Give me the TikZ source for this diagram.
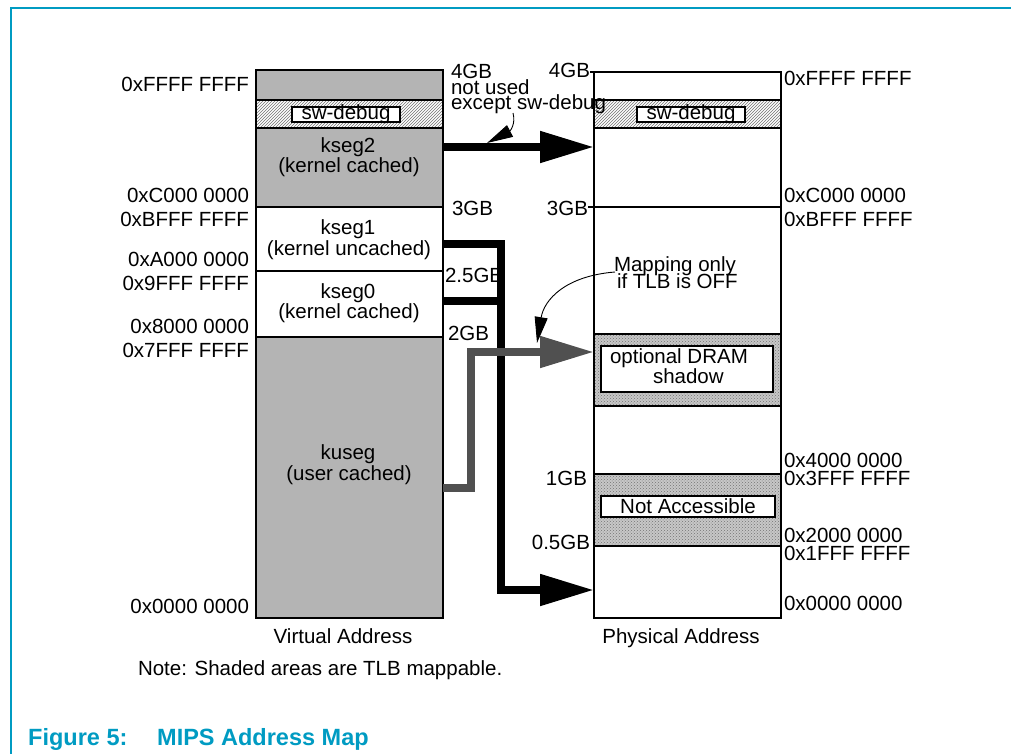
\documentclass[tikz,border=0pt]{standalone}
\usepackage{fontspec}
\setmainfont{Liberation Sans}
\usetikzlibrary{arrows.meta,patterns}
\definecolor{figcyan}{RGB}{0,155,194}
\definecolor{segray}{RGB}{180,180,180}
\definecolor{arrgray}{RGB}{80,80,80}
\begin{document}
\begin{tikzpicture}[x=1pt,y=-1pt,
  lbl/.style={font=\fontsize{20.5}{15}\selectfont, inner sep=0pt, outer sep=0pt},
  figcap/.style={font=\fontsize{23.5}{26}\selectfont\bfseries, text=figcyan, inner sep=0pt, anchor=base west},
  box/.style={draw=black, line width=1.8pt},
  hatchband/.style={pattern=north east lines, pattern color=black!55},
  dotband/.style={pattern=crosshatch dots, pattern color=black!55},
  big/.style={line width=8pt, line join=miter, -{Triangle[length=54pt,width=30pt]}},
  ptr/.style={line width=0.9pt, -{Triangle[length=26pt,width=13pt]}}
]
\useasboundingbox (0,0) rectangle (1011,754);
% frame
\draw[figcyan, line width=1.5pt] (11,754) -- (11,8) -- (1011,8);

% ---------- virtual address column ----------
\fill[segray] (256,70) rectangle (443,100);
\fill[white] (256,100) rectangle (443,128);
\fill[hatchband] (256,100) rectangle (443,128);
\fill[segray] (256,128) rectangle (443,207);
\fill[segray] (256,337) rectangle (443,618);
\draw[box] (256,70) rectangle (443,618);
\draw[box] (256,100) -- (443,100);
\draw[box] (256,128) -- (443,128);
\draw[box] (256,207) -- (443,207);
\draw[box] (256,271) -- (443,271);
\draw[box] (256,337) -- (443,337);
\draw[box, fill=white] (292,107) rectangle (400,122);
\node[lbl, anchor=base] (vsw) at (346,120) {sw-debug};

% ---------- physical address column ----------
\fill[white] (594,100) rectangle (781,128);
\fill[hatchband] (594,100) rectangle (781,128);
\fill[black!22] (594,334) rectangle (781,406);
\fill[dotband] (594,334) rectangle (781,406);
\fill[black!22] (594,474) rectangle (781,546);
\fill[dotband] (594,474) rectangle (781,546);
\draw[box] (594,72) rectangle (781,618);
\draw[box] (590,72) -- (594,72);
\draw[box] (594,100) -- (781,100);
\draw[box] (594,128) -- (781,128);
\draw[box] (588,207) -- (781,207);
\draw[box] (594,334) -- (781,334);
\draw[box] (594,406) -- (781,406);
\draw[box] (594,474) -- (781,474);
\draw[box] (594,546) -- (781,546);
\draw[box, fill=white] (637,107) rectangle (745,122);
\node[lbl, anchor=base] (psw) at (691,120) {sw-debug};
\draw[box, fill=white] (601,346) rectangle (773,392);
\node[lbl, anchor=base west] (dram1) at (610,363) {optional DRAM};
\node[lbl, anchor=base west] (dram2) at (653,383) {shadow};
\draw[box, fill=white] (601,496) rectangle (775,517);
\node[lbl, anchor=base] (na) at (688,513) {Not Accessible};

% ---------- segment texts ----------
\node[lbl, anchor=base] (k2a) at (348,153) {kseg2};
\node[lbl, anchor=base] (k2b) at (349,173) {(kernel cached)};
\node[lbl, anchor=base] (k1a) at (348,234) {kseg1};
\node[lbl, anchor=base] (k1b) at (349,255) {(kernel uncached)};
\node[lbl, anchor=base] (k0a) at (348,298) {kseg0};
\node[lbl, anchor=base] (k0b) at (349,318) {(kernel cached)};
\node[lbl, anchor=base] (kua) at (348,459) {kuseg};
\node[lbl, anchor=base] (kub) at (349,480) {(user cached)};

% ---------- left address labels ----------
\node[lbl, anchor=base east] (la1) at (249,92) {0xFFFF FFFF};
\node[lbl, anchor=base east] (la2) at (249,202) {0xC000 0000};
\node[lbl, anchor=base east] (la3) at (249,226) {0xBFFF FFFF};
\node[lbl, anchor=base east] (la4) at (249,266) {0xA000 0000};
\node[lbl, anchor=base east] (la5) at (249,290) {0x9FFF FFFF};
\node[lbl, anchor=base east] (la6) at (249,333) {0x8000 0000};
\node[lbl, anchor=base east] (la7) at (249,357) {0x7FFF FFFF};
\node[lbl, anchor=base east] (la8) at (249,613) {0x0000 0000};

% ---------- right address labels ----------
\node[lbl, anchor=base west] (ra1) at (784,86) {0xFFFF FFFF};
\node[lbl, anchor=base west] (ra2) at (784,202) {0xC000 0000};
\node[lbl, anchor=base west] (ra3) at (784,226) {0xBFFF FFFF};
\node[lbl, anchor=base west] (ra4) at (784,467) {0x4000 0000};
\node[lbl, anchor=base west] (ra5) at (784,485) {0x3FFF FFFF};
\node[lbl, anchor=base west] (ra6) at (784,542) {0x2000 0000};
\node[lbl, anchor=base west] (ra7) at (784,560) {0x1FFF FFFF};
\node[lbl, anchor=base west] (ra8) at (784,610) {0x0000 0000};

% ---------- GB labels ----------
\node[lbl, anchor=base west] (v4) at (451,79) {4GB};
\node[lbl, anchor=base west] (nu) at (451,95) {not used};
\node[lbl, anchor=base west] (ex) at (451,110) {except sw-debug};
\node[lbl, anchor=base west] (v3) at (452,215) {3GB};
\node[lbl, anchor=base west] (v25) at (445,282) {2.5GB};
\node[lbl, anchor=base west] (v2) at (448,340) {2GB};
\node[lbl, anchor=base east] (p4) at (590,78) {4GB};
\node[lbl, anchor=base east] (p3) at (588,215) {3GB};
\node[lbl, anchor=base east] (p1) at (587,485) {1GB};
\node[lbl, anchor=base east] (p05) at (590,549) {0.5GB};

\node[lbl, anchor=base west] (m1) at (614,271) {Mapping only};
\node[lbl, anchor=base west] (m2) at (617,288) {if TLB is OFF};

% ---------- bottom texts ----------
\node[lbl, anchor=base] (va) at (343,643) {Virtual Address};
\node[lbl, anchor=base] (pa) at (681,643) {Physical Address};
\node[lbl, anchor=base west] (note) at (138,675) {Note: Shaded areas are TLB mappable.};
\node[figcap] (fig) at (28,745) {Figure 5:};
\node[figcap] (title) at (157,745) {MIPS Address Map};

% ---------- connectors ----------
\coordinate (k2s) at (443,147); \coordinate (k2e) at (594,147);
\coordinate (k1s) at (443,244); \coordinate (k1c) at (501,244);
\coordinate (k1d) at (501,590); \coordinate (k1e) at (594,590);
\coordinate (k0s) at (443,301); \coordinate (k0j) at (505,301);
\coordinate (kus) at (443,488); \coordinate (kuc) at (471,488);
\coordinate (kut) at (471,352); \coordinate (kue) at (594,352);
\draw[big, black] (k2s) -- (k2e);
\draw[big, black] (k1s) -- (k1c) -- (k1d) -- (k1e);
\draw[line width=8pt, black] (k0s) -- (k0j);
\draw[big, arrgray] (kus) -- (kuc) -- (kut) -- (kue);

\coordinate (swp) at (513,113); \coordinate (swt) at (487,143);
\draw[ptr] (swp) .. controls (516,124) and (510,131) .. (swt);
\coordinate (mp) at (615,272); \coordinate (mt) at (537,343);
\draw[ptr] (mp) .. controls (565,276) and (544,300) .. (mt);
\end{tikzpicture}
\end{document}
